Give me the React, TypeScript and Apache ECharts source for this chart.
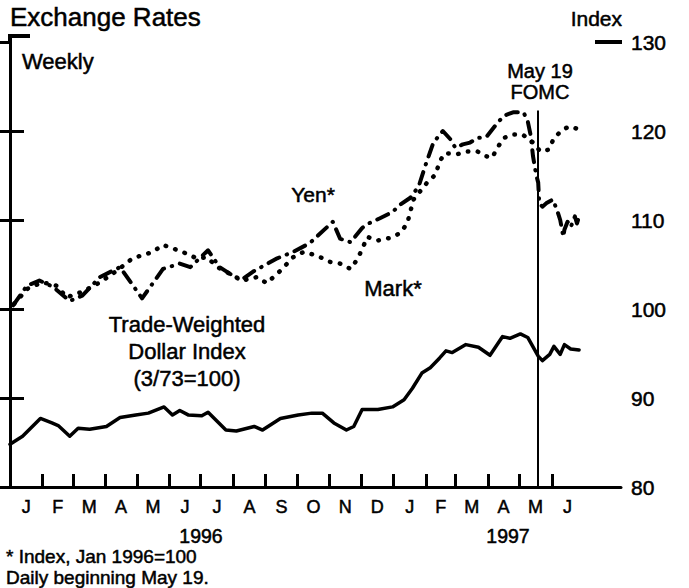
import React, { useEffect, useRef } from "react";
import * as echarts from "echarts";

// ---------- data ----------
const monthLetters = ["J", "F", "M", "A", "M", "J", "J", "A", "S", "O", "N", "D", "J", "F", "M", "A", "M", "J"];
const yTickValues = [80, 90, 100, 110, 120, 130];
const yearLabels = ["1996", "1997"];
const fomcDate = "1997-05-19";

const yenDates = [
  "1996-01-04", "1996-01-17", "1996-01-29", "1996-02-11", "1996-02-27", "1996-03-10", "1996-03-27",
  "1996-04-15", "1996-05-06", "1996-05-26", "1996-06-11", "1996-06-21", "1996-07-08", "1996-07-19",
  "1996-08-08", "1996-08-20", "1996-09-12", "1996-09-27", "1996-10-13", "1996-11-04", "1996-11-11",
  "1996-11-21", "1996-12-02", "1996-12-08", "1996-12-19", "1996-12-31", "1997-01-07", "1997-01-17",
  "1997-01-25", "1997-01-31", "1997-02-08", "1997-02-17", "1997-02-24", "1997-03-01", "1997-03-08",
  "1997-03-15", "1997-03-22", "1997-03-31", "1997-04-08", "1997-04-16", "1997-04-25", "1997-05-05",
  "1997-05-09", "1997-05-12", "1997-05-14", "1997-05-17", "1997-05-19", "1997-05-20", "1997-05-23",
  "1997-05-27", "1997-06-02", "1997-06-06", "1997-06-09", "1997-06-12", "1997-06-13", "1997-06-16",
  "1997-06-19", "1997-06-23", "1997-06-25", "1997-06-27",
];
const yenValues = [
  100.4, 102.6, 103.2, 102.5, 100.9, 101.5, 103.6,
  104.7, 101.2, 104.5, 105.1, 104.7, 106.6, 104.7,
  103.2, 104.2, 105.7, 106.4, 107.4, 109.8, 107.9,
  107.5, 109.1, 109.6, 110.2, 110.9, 111.7, 112.5,
  113.8, 116.0, 118.7, 120.0, 119.1, 118.1, 118.5,
  118.7, 119.2, 119.4, 120.6, 121.7, 122.1, 122.1,
  121.1, 119.4, 117.2, 115.1, 114.2, 111.9, 111.5,
  111.9, 112.3, 111.1, 110.0, 108.1, 108.9, 109.8,
  109.2, 110.4, 109.6, 110.4,
];

const markDates = [
  "1996-01-05", "1996-01-18", "1996-02-01", "1996-02-15", "1996-02-24", "1996-03-11", "1996-03-27",
  "1996-04-12", "1996-04-27", "1996-05-16", "1996-05-26", "1996-06-14", "1996-06-27", "1996-07-07",
  "1996-07-17", "1996-07-31", "1996-08-10", "1996-08-24", "1996-09-02", "1996-09-15", "1996-09-27",
  "1996-10-07", "1996-10-20", "1996-11-01", "1996-11-11", "1996-11-21", "1996-11-28", "1996-12-03",
  "1996-12-07", "1996-12-17", "1996-12-29", "1997-01-07", "1997-01-14", "1997-01-20", "1997-02-02",
  "1997-02-10", "1997-02-14", "1997-02-19", "1997-03-03", "1997-03-12", "1997-03-22", "1997-03-29",
  "1997-04-05", "1997-04-10", "1997-04-16", "1997-04-24", "1997-05-04", "1997-05-10", "1997-05-14",
  "1997-05-21", "1997-05-29", "1997-06-03", "1997-06-10", "1997-06-17", "1997-06-24", "1997-06-28",
];
const markValues = [
  100.6, 102.3, 103.0, 102.6, 101.3, 102.0, 103.0,
  104.3, 105.7, 106.4, 107.2, 106.4, 105.7, 105.8,
  104.7, 103.8, 103.2, 103.6, 102.9, 104.3, 105.8,
  106.4, 106.0, 105.3, 105.1, 104.5, 105.7, 107.0,
  108.1, 107.7, 108.0, 108.5, 109.6, 112.3, 114.2,
  115.1, 116.6, 117.5, 117.4, 117.7, 117.7, 117.2,
  117.0, 118.1, 119.2, 119.6, 119.6, 119.1, 118.7,
  117.7, 117.9, 119.2, 120.0, 120.5, 120.3, 120.1,
];

const dollarDates = [
  "1996-01-01", "1996-01-13", "1996-01-30", "1996-02-10", "1996-02-16", "1996-02-27", "1996-03-06",
  "1996-03-17", "1996-04-02", "1996-04-15", "1996-04-30", "1996-05-12", "1996-05-27", "1996-06-04",
  "1996-06-11", "1996-06-19", "1996-07-02", "1996-07-08", "1996-07-25", "1996-08-04", "1996-08-21",
  "1996-08-29", "1996-09-15", "1996-10-02", "1996-10-15", "1996-10-25", "1996-11-05", "1996-11-17",
  "1996-11-24", "1996-12-02", "1996-12-17", "1996-12-31", "1997-01-11", "1997-01-19", "1997-01-28",
  "1997-02-05", "1997-02-14", "1997-02-20", "1997-02-26", "1997-03-11", "1997-03-23", "1997-04-03",
  "1997-04-15", "1997-04-22", "1997-05-02", "1997-05-09", "1997-05-19", "1997-05-23", "1997-05-30",
  "1997-06-03", "1997-06-09", "1997-06-13", "1997-06-19", "1997-06-27",
];
const dollarValues = [
  84.8, 85.7, 87.7, 87.2, 86.9, 85.7, 86.6,
  86.5, 86.8, 87.8, 88.1, 88.3, 89.0, 88.1,
  88.6, 88.1, 88.0, 88.4, 86.4, 86.3, 86.8,
  86.4, 87.7, 88.1, 88.3, 88.3, 87.2, 86.4,
  86.8, 88.7, 88.7, 89.0, 89.8, 91.1, 92.8,
  93.4, 94.5, 95.3, 95.1, 96.0, 95.7, 94.8,
  96.9, 96.7, 97.2, 96.8, 94.7, 94.2, 94.9,
  95.8, 94.9, 96.0, 95.5, 95.4,
];

// ---------- helpers ----------
const START = Date.UTC(1996, 0, 1);
function dayOf(s: string): number {
  const [y, m, d] = s.split("-").map(Number);
  return (Date.UTC(y, m - 1, d) - START) / 86400000;
}
function monthStartDay(i: number): number {
  return (Date.UTC(1996, i, 1) - START) / 86400000;
}
const AXIS_END = "1997-08-06";
const monthTickDays = monthLetters.slice(1).map((_, i) => monthStartDay(i + 1));
const monthLabelDays = monthLetters.map((_, i) => (monthStartDay(i) + monthStartDay(i + 1)) / 2);
const innerYTicks = yTickValues.slice(1, -1);

function pairs(dates: string[], vals: number[]) {
  return dates.map((d, i) => [dayOf(d), vals[i]]);
}

const FONT = "'Liberation Sans', Arial, Helvetica, sans-serif";

function txt(text: string, x: number, y: number, size: number, align = "left", vAlign = "middle") {
  return {
    type: "text",
    x,
    y,
    style: {
      text,
      font: `${size}px ${FONT}`,
      fill: "#000",
      stroke: "#000",
      lineWidth: 0.5,
      textAlign: align,
      textVerticalAlign: vAlign,
      align,
      verticalAlign: vAlign,
    },
  };
}

export default function App() {
  const ref = useRef<HTMLDivElement>(null);
  useEffect(() => {
    if (!ref.current) return;
    const chart = echarts.init(ref.current, null, { renderer: "svg" });
    const fomcDay = dayOf(fomcDate);
    const labelBase = {
      color: "#000",
      fontFamily: FONT,
      textBorderColor: "#000",
      textBorderWidth: 0.5,
    };
    const option: any = {
      animation: false,
      backgroundColor: "#fff",
      grid: { left: 10, right: 68, top: 42, bottom: 101, containLabel: false, outerBoundsMode: "none" },
      xAxis: {
        type: "value",
        min: 0,
        max: dayOf(AXIS_END),
        splitLine: { show: false },
        axisLine: { show: true, lineStyle: { color: "#000", width: 3 } },
        axisTick: {
          show: true,
          inside: true,
          length: 13,
          lineStyle: { color: "#000", width: 3 },
          customValues: monthTickDays,
        },
        axisLabel: {
          ...labelBase,
          show: true,
          customValues: monthLabelDays,
          fontSize: 18,
          margin: 11,
          formatter: (v: number) => {
            let best = 0;
            let bd = Infinity;
            monthLabelDays.forEach((d, i) => {
              if (Math.abs(d - v) < bd) {
                bd = Math.abs(d - v);
                best = i;
              }
            });
            return monthLetters[best];
          },
        },
      },
      yAxis: [
        {
          type: "value",
          position: "right",
          min: yTickValues[0],
          max: yTickValues[yTickValues.length - 1],
          interval: 10,
          splitLine: { show: false },
          axisLine: { show: true, lineStyle: { color: "#000", width: 3 } },
          axisTick: { show: true, inside: true, length: 15, lineStyle: { color: "#000", width: 3 } },
          axisLabel: { ...labelBase, fontSize: 21, margin: 10 },
        },
        {
          type: "value",
          position: "left",
          min: yTickValues[0],
          max: yTickValues[yTickValues.length - 1],
          interval: 10,
          splitLine: { show: false },
          axisLine: { show: true, lineStyle: { color: "#000", width: 3 } },
          axisTick: {
            show: true,
            inside: true,
            length: 14,
            lineStyle: { color: "#000", width: 3 },
            customValues: innerYTicks,
          },
          axisLabel: { show: false },
        },
      ],
      series: [
        {
          name: "Trade-Weighted Dollar Index",
          type: "line",
          data: pairs(dollarDates, dollarValues),
          showSymbol: false,
          lineStyle: { color: "#000", width: 3.5, join: "round", cap: "round" },
          markLine: {
            silent: true,
            symbol: "none",
            label: { show: false },
            lineStyle: { color: "#000", width: 2, type: "solid" },
            data: [[{ coord: [fomcDay, 122.3] }, { coord: [fomcDay, 80] }]],
          },
        },
        {
          name: "Yen*",
          type: "line",
          data: pairs(yenDates, yenValues),
          showSymbol: false,
          lineStyle: { color: "#000", width: 4, type: [12, 8, 0.5, 8], cap: "round", join: "round" },
        },
        {
          name: "Mark*",
          type: "line",
          data: pairs(markDates, markValues),
          showSymbol: false,
          lineStyle: { color: "#000", width: 4.5, type: [0.5, 9.5], cap: "round", join: "round" },
        },
      ],
      graphic: [
        txt("Exchange Rates", 10, 17, 26),
        txt("Index", 622, 18, 21, "right"),
        txt("Weekly", 22, 61, 22),
        txt("May 19", 540, 71, 20, "center"),
        txt("FOMC", 540, 92, 20, "center"),
        txt("Yen*", 313, 194, 21, "center"),
        txt("Mark*", 393, 288, 22, "center"),
        txt("Trade-Weighted", 187, 324, 22, "center"),
        txt("Dollar Index", 187, 351, 22, "center"),
        txt("(3/73=100)", 187, 378, 22, "center"),
        txt(yearLabels[0], 201, 536, 19.5, "center"),
        txt(yearLabels[1], 508, 536, 19.5, "center"),
        txt("* Index, Jan 1996=100", 6, 556, 19),
        txt("Daily beginning May 19.", 6, 577, 19),
        { type: "polyline", shape: { points: [[10, 44], [10, 36], [30, 36]] }, style: { stroke: "#000", lineWidth: 4, fill: "none" } },
        { type: "line", shape: { x1: 595, y1: 42, x2: 622, y2: 42 }, style: { stroke: "#000", lineWidth: 4 } },
      ],
    };
    chart.setOption(option);
    return () => chart.dispose();
  }, []);
  return (
    <div
      ref={ref}
      style={{ position: "absolute", left: 0, top: 0, width: 689, height: 588, background: "#fff" }}
    />
  );
}
